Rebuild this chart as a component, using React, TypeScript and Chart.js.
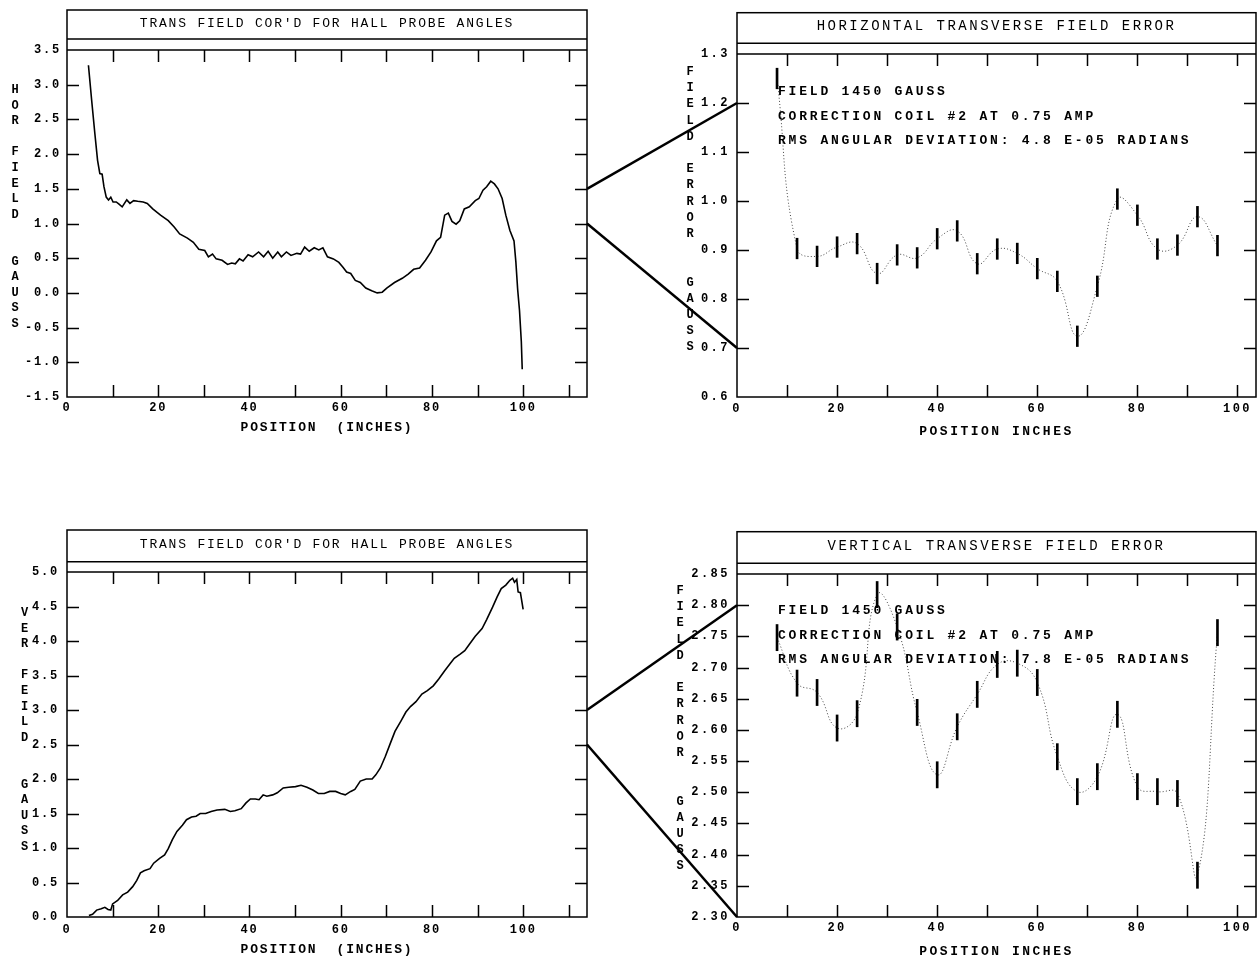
import React, { useEffect, useRef, useState } from 'react';
import { Chart, registerables } from 'chart.js';

Chart.register(...registerables);

const FONT = "'Liberation Mono', 'DejaVu Sans Mono', monospace";

// ---------- DATA ----------
// Horizontal transverse field (top-left)
const hPos = [4.7, 5.4, 6.1, 6.7, 7.2, 7.7, 8.1, 8.6, 9.1, 9.6, 10.1, 10.8, 11.4, 12.1, 13.1, 13.8, 14.6, 15.5, 16.7, 17.6,
  18.8, 20.5, 22.2, 23.5, 24.7, 26.4, 27.7, 28.9, 30.2, 31.0, 31.9, 32.7, 34.0, 35.2, 36.1, 36.9, 37.8, 38.6, 39.7, 40.7,
  42.0, 43.1, 44.1, 45.1, 46.2, 47.0, 48.1, 49.1, 50.4, 51.2, 52.1, 53.1, 54.2, 55.2, 56.1, 57.1, 58.4, 59.6, 60.5, 61.3,
  62.2, 63.2, 64.3, 65.5, 66.8, 68.0, 69.1, 70.1, 71.8, 73.5, 74.8, 76.0, 77.3, 78.6, 79.8, 81.0, 81.9, 82.8, 83.6, 84.4,
  85.3, 86.1, 87.1, 88.2, 89.5, 90.3, 91.2, 92.0, 92.9, 93.7, 94.5, 95.4, 96.2, 97.1, 98.0, 98.4, 98.8, 99.2, 99.6, 99.8];
const hVal = [3.28, 2.78, 2.30, 1.91, 1.72, 1.71, 1.53, 1.38, 1.34, 1.38, 1.31, 1.31, 1.28, 1.24, 1.34, 1.29, 1.33, 1.32, 1.31, 1.29,
  1.21, 1.12, 1.04, 0.95, 0.85, 0.79, 0.73, 0.63, 0.61, 0.52, 0.56, 0.49, 0.47, 0.41, 0.43, 0.42, 0.49, 0.46, 0.55, 0.52,
  0.59, 0.52, 0.60, 0.50, 0.59, 0.52, 0.59, 0.54, 0.57, 0.56, 0.66, 0.60, 0.65, 0.62, 0.65, 0.52, 0.49, 0.44, 0.37, 0.30,
  0.28, 0.18, 0.15, 0.07, 0.03, 0.00, 0.01, 0.07, 0.15, 0.21, 0.27, 0.34, 0.36, 0.47, 0.59, 0.75, 0.80, 1.12, 1.15, 1.03,
  0.99, 1.04, 1.21, 1.24, 1.33, 1.36, 1.48, 1.53, 1.61, 1.57, 1.50, 1.36, 1.12, 0.90, 0.75, 0.45, 0.05, -0.25, -0.70, -1.10];

// Vertical transverse field (bottom-left)
const vPos = [4.8, 5.6, 6.5, 7.5, 8.3, 9.0, 9.6, 10.0, 11.1, 12.2, 13.3, 14.4, 15.3, 16.1, 16.9, 18.2, 19.0, 20.3,
  21.4, 22.2, 23.1, 24.1, 25.3, 26.2, 27.3, 28.3, 29.2, 30.4, 31.6, 32.9, 34.6, 35.8, 36.8, 38.2, 39.2, 40.2, 41.3, 42.1,
  43.0, 43.8, 45.1, 46.1, 47.4, 48.6, 50.1, 51.3, 52.6, 53.9, 55.1, 56.4, 57.6, 58.9, 60.0, 61.0, 62.2, 63.1, 64.3, 65.6,
  66.9, 67.7, 68.7, 69.8, 70.9, 71.9, 73.2, 74.3, 75.3, 76.5, 77.8, 79.0, 80.3, 81.5, 82.8, 84.1, 84.9, 86.2, 87.2, 88.3,
  89.5, 91.0, 92.0, 93.3, 94.3, 95.2, 96.2, 97.1, 97.7, 98.1, 98.6, 98.9, 99.4, 100.0];
const vVal = [0.02, 0.04, 0.10, 0.12, 0.14, 0.11, 0.10, 0.19, 0.24, 0.32, 0.36, 0.44, 0.53, 0.64, 0.67, 0.70, 0.78, 0.85,
  0.90, 0.99, 1.12, 1.24, 1.33, 1.41, 1.45, 1.46, 1.50, 1.50, 1.53, 1.55, 1.56, 1.53, 1.54, 1.57, 1.65, 1.71, 1.71, 1.70,
  1.77, 1.75, 1.77, 1.80, 1.87, 1.88, 1.89, 1.91, 1.88, 1.84, 1.79, 1.79, 1.82, 1.82, 1.79, 1.77, 1.82, 1.85, 1.97, 2.00,
  2.00, 2.06, 2.16, 2.33, 2.52, 2.69, 2.84, 2.97, 3.05, 3.12, 3.23, 3.28, 3.35, 3.45, 3.57, 3.68, 3.75, 3.81, 3.86, 3.96,
  4.07, 4.18, 4.31, 4.49, 4.64, 4.76, 4.81, 4.88, 4.91, 4.85, 4.89, 4.71, 4.70, 4.46];

// Field error points (right panels)
const errPos = [8, 12, 16, 20, 24, 28, 32, 36, 40, 44, 48, 52, 56, 60, 64, 68, 72, 76, 80, 84, 88, 92, 96];
const hErrVal = [1.25, 0.903, 0.887, 0.906, 0.913, 0.852, 0.890, 0.884, 0.923, 0.939, 0.872, 0.902, 0.893, 0.862,
  0.836, 0.724, 0.826, 1.004, 0.971, 0.902, 0.910, 0.968, 0.909];
const vErrVal = [2.748, 2.675, 2.660, 2.603, 2.626, 2.817, 2.765, 2.628, 2.528, 2.605, 2.657, 2.705, 2.707, 2.676,
  2.557, 2.501, 2.525, 2.625, 2.509, 2.501, 2.498, 2.367, 2.756];
const hErrHalf = 0.021;
const vErrHalf = 0.021;

// Zoom connector values (left value -> right value)
const hZoomFrom = [1.5, 1.0];
const hZoomTo = [1.2, 0.7];
const vZoomFrom = [3.0, 2.5];
const vZoomTo = [2.8, 2.3];

// Texts
const leftTitle = "TRANS FIELD COR'D FOR HALL PROBE ANGLES";
const hErrTitle = 'HORIZONTAL TRANSVERSE FIELD ERROR';
const vErrTitle = 'VERTICAL TRANSVERSE FIELD ERROR';
const leftXTitle = 'POSITION  (INCHES)';
const rightXTitle = 'POSITION INCHES';
const hYTitle = 'HOR FIELD  GAUSS';
const vYTitle = 'VER FEILD  GAUSS';
const errYTitle = 'FIELD ERROR  GAUSS';
const hNotes = ['FIELD 1450 GAUSS', 'CORRECTION COIL #2 AT 0.75 AMP', 'RMS ANGULAR DEVIATION: 4.8 E-05 RADIANS'];
const vNotes = ['FIELD 1450 GAUSS', 'CORRECTION COIL #2 AT 0.75 AMP', 'RMS ANGULAR DEVIATION: 7.8 E-05 RADIANS'];

// Axis ranges
const leftXMax = 114;
const rightXMax = 103.7;
const hYRange = [-1.5, 3.5, 0.5];
const vYRange = [0, 5, 0.5];
const hErrYRange = [0.6, 1.3, 0.1];
const vErrYRange = [2.3, 2.85, 0.05];

// ---------- PLUGIN ----------
const framePlugin = {
  id: 'panelFrame',
  beforeDraw(chart: any, _a: any, opts: any) {
    (chart.ctx as any).letterSpacing = (opts.spacing || 0) + 'px';
  },
  afterDraw(chart: any, _a: any, opts: any) {
    const { ctx, chartArea: ca, scales } = chart;
    ctx.save();
    ctx.strokeStyle = '#000';
    ctx.lineWidth = 1.5;
    const top = ca.top + opts.boxTop;
    ctx.strokeRect(ca.left, top, ca.right - ca.left, ca.bottom - top);
    ctx.beginPath();
    ctx.moveTo(ca.left, ca.top + opts.boxLine);
    ctx.lineTo(ca.right, ca.top + opts.boxLine);
    ctx.moveTo(ca.left, ca.top);
    ctx.lineTo(ca.right, ca.top);
    const tl = 12;
    const xs = scales.x;
    xs.ticks.forEach((t: any) => {
      if (t.value <= xs.min || t.value >= xs.max) return;
      const px = Math.round(xs.getPixelForValue(t.value)) + 0.5;
      ctx.moveTo(px, ca.bottom);
      ctx.lineTo(px, ca.bottom - tl);
      ctx.moveTo(px, ca.top);
      ctx.lineTo(px, ca.top + tl);
    });
    const ys = scales.y;
    ys.ticks.forEach((t: any) => {
      if (t.value <= ys.min + 1e-9 || t.value >= ys.max - 1e-9) return;
      const py = Math.round(ys.getPixelForValue(t.value)) + 0.5;
      ctx.moveTo(ca.left, py);
      ctx.lineTo(ca.left + tl, py);
      ctx.moveTo(ca.right, py);
      ctx.lineTo(ca.right - tl, py);
    });
    ctx.stroke();

    ctx.fillStyle = '#000';
    ctx.textBaseline = 'middle';
    // stacked y-axis title letters
    ctx.letterSpacing = '0px';
    ctx.textAlign = 'center';
    ctx.font = `bold ${opts.letterSize}px ${FONT}`;
    [...opts.yTitle].forEach((ch: string, i: number) => {
      if (ch.trim()) ctx.fillText(ch, opts.yTitleX, opts.yTitleY + i * opts.yTitlePitch);
    });
    // notes
    if (opts.notes) {
      ctx.textAlign = 'left';
      ctx.letterSpacing = opts.noteSpacing + 'px';
      ctx.font = `bold ${opts.noteSize}px ${FONT}`;
      opts.notes.forEach((s: string, i: number) => {
        ctx.fillText(s, ca.left + opts.noteX, ca.top + opts.noteY + i * opts.notePitch);
      });
    }
    ctx.restore();
  },
};

// ---------- PANELS ----------
type Panel = {
  left: number; top: number; w: number; h: number;
  yW: number; padR: number; xH: number;
  title: string; titleSize: number; titlePadTop: number; titlePadBottom: number;
  xMax: number; xLabelPad: number; xTitle: string; xTitlePadBottom: number;
  yRange: number[]; yDec: number; yLabelPad: number;
  boxTop: number; boxLine: number;
  yTitle: string; yTitleX: number; yTitleY: number; yTitlePitch: number;
  spacing: number;
  datasets: any[];
  notes?: string[]; noteY?: number;
};

const curveSet = (xs: number[], ys: number[]) => ({
  type: 'line',
  data: xs.map((x, i) => ({ x, y: ys[i] })),
  borderColor: '#000',
  borderWidth: 1.6,
  pointRadius: 0,
  tension: 0,
  order: 1,
});

const errSets = (xs: number[], ys: number[], half: number) => [
  {
    type: 'bar',
    data: xs.map((x, i) => ({ x, y: [ys[i] - half, ys[i] + half] })),
    backgroundColor: '#000',
    borderWidth: 0,
    barThickness: 2,
    grouped: false,
    order: 0,
  },
  {
    type: 'line',
    data: xs.map((x, i) => ({ x, y: ys[i] })),
    borderColor: '#444',
    borderWidth: 1,
    borderDash: [1, 2.2],
    pointRadius: 0,
    tension: 0.45,
    order: 1,
  },
];

const PANELS: Panel[] = [
  {
    left: 0, top: 0, w: 600, h: 445, yW: 67, padR: 13, xH: 48,
    title: leftTitle, titleSize: 13, titlePadTop: 16.2, titlePadBottom: 18.2,
    xMax: leftXMax, xLabelPad: 3.8, xTitle: leftXTitle, xTitlePadBottom: 9.2,
    yRange: hYRange, yDec: 1, yLabelPad: 6,
    boxTop: -40, boxLine: -11,
    yTitle: hYTitle, yTitleX: 15, yTitleY: 90, yTitlePitch: 15.6,
    spacing: 1.8,
    datasets: [curveSet(hPos, hVal)],
  },
  {
    left: 600, top: 0, w: 659, h: 445, yW: 137, padR: 3, xH: 48,
    title: hErrTitle, titleSize: 14, titlePadTop: 18.3, titlePadBottom: 18.9,
    xMax: rightXMax, xLabelPad: 4.8, xTitle: rightXTitle, xTitlePadBottom: 5.2,
    yRange: hErrYRange, yDec: 1, yLabelPad: 7,
    boxTop: -41.3, boxLine: -10.7,
    yTitle: errYTitle, yTitleX: 90, yTitleY: 72, yTitlePitch: 16.2,
    spacing: 2.5,
    datasets: errSets(errPos, hErrVal, hErrHalf),
    notes: hNotes, noteY: 38,
  },
  {
    left: 0, top: 480, w: 600, h: 478, yW: 67, padR: 13, xH: 41,
    title: leftTitle, titleSize: 13, titlePadTop: 57.2, titlePadBottom: 19.2,
    xMax: leftXMax, xLabelPad: 5.8, xTitle: leftXTitle, xTitlePadBottom: 0.2,
    yRange: vYRange, yDec: 1, yLabelPad: 8,
    boxTop: -42, boxLine: -10.3,
    yTitle: vYTitle, yTitleX: 24.5, yTitleY: 133, yTitlePitch: 15.6,
    spacing: 1.8,
    datasets: [curveSet(vPos, vVal)],
  },
  {
    left: 600, top: 480, w: 659, h: 478, yW: 137, padR: 3, xH: 41,
    title: vErrTitle, titleSize: 14, titlePadTop: 57.6, titlePadBottom: 19.6,
    xMax: rightXMax, xLabelPad: 3.8, xTitle: rightXTitle, xTitlePadBottom: -1.8,
    yRange: vErrYRange, yDec: 2, yLabelPad: 7,
    boxTop: -42.3, boxLine: -10.7,
    yTitle: errYTitle, yTitleX: 80, yTitleY: 111, yTitlePitch: 16.2,
    spacing: 2.5,
    datasets: errSets(errPos, vErrVal, vErrHalf),
    notes: vNotes, noteY: 37,
  },
];

function buildConfig(p: Panel): any {
  const tickFont = { family: FONT, size: 12, weight: 'bold' };
  return {
    type: 'line',
    data: { datasets: p.datasets },
    plugins: [framePlugin],
    options: {
      responsive: false,
      animation: false,
      events: [],
      layout: { padding: { left: 0, right: p.padR, top: 0, bottom: 0 } },
      plugins: {
        legend: { display: false },
        tooltip: { enabled: false },
        title: {
          display: true,
          text: p.title,
          fullSize: false,
          color: '#000',
          font: { family: FONT, size: p.titleSize, weight: 'normal' },
          padding: { top: p.titlePadTop, bottom: p.titlePadBottom },
        },
        panelFrame: {
          boxTop: p.boxTop, boxLine: p.boxLine,
          yTitle: p.yTitle, yTitleX: p.yTitleX, yTitleY: p.yTitleY, yTitlePitch: p.yTitlePitch,
          letterSize: 12, spacing: p.spacing,
          notes: p.notes, noteX: 41, noteY: p.noteY, notePitch: 24.3, noteSize: 13, noteSpacing: 2.8,
        },
      },
      scales: {
        x: {
          type: 'linear',
          min: 0,
          max: p.xMax,
          offset: false,
          grid: { display: false, drawTicks: false, offset: false },
          border: { display: false },
          ticks: {
            stepSize: 10,
            includeBounds: false,
            autoSkip: false,
            maxRotation: 0,
            padding: p.xLabelPad,
            color: '#000',
            font: tickFont,
            callback: (v: any) => (Number(v) % 20 === 0 ? String(v) : ''),
          },
          title: {
            display: true,
            text: p.xTitle,
            color: '#000',
            font: { family: FONT, size: 13, weight: 'bold' },
            padding: { top: 0, bottom: p.xTitlePadBottom },
          },
          afterFit: (s: any) => { s.height = p.xH; },
        },
        y: {
          type: 'linear',
          min: p.yRange[0],
          max: p.yRange[1],
          beginAtZero: false,
          grid: { display: false, drawTicks: false },
          border: { display: false },
          ticks: {
            stepSize: p.yRange[2],
            padding: p.yLabelPad,
            color: '#000',
            font: tickFont,
            callback: (v: any) => Number(v).toFixed(p.yDec),
          },
          afterFit: (s: any) => { s.width = p.yW; },
        },
      },
    },
  };
}

type Seg = { x1: number; y1: number; x2: number; y2: number };

export default function App() {
  const r0 = useRef<HTMLCanvasElement>(null);
  const r1 = useRef<HTMLCanvasElement>(null);
  const r2 = useRef<HTMLCanvasElement>(null);
  const r3 = useRef<HTMLCanvasElement>(null);
  const refs = [r0, r1, r2, r3];
  const [segs, setSegs] = useState<Seg[]>([]);

  useEffect(() => {
    const charts = PANELS.map((p, i) => new Chart(refs[i].current as HTMLCanvasElement, buildConfig(p)));
    const link = (a: number, b: number, from: number[], to: number[]): Seg[] =>
      from.map((v, k) => ({
        x1: PANELS[a].left + charts[a].chartArea.right,
        y1: PANELS[a].top + charts[a].scales.y.getPixelForValue(v),
        x2: PANELS[b].left + charts[b].chartArea.left,
        y2: PANELS[b].top + charts[b].scales.y.getPixelForValue(to[k]),
      }));
    setSegs([...link(0, 1, hZoomFrom, hZoomTo), ...link(2, 3, vZoomFrom, vZoomTo)]);
    return () => charts.forEach((c) => c.destroy());
  }, []);

  return (
    <div style={{ position: 'absolute', left: 0, top: 0, width: 1259, height: 958, background: '#fff', overflow: 'hidden' }}>
      {PANELS.map((p, i) => (
        <canvas
          key={i}
          ref={refs[i]}
          width={p.w}
          height={p.h}
          style={{ position: 'absolute', left: p.left, top: p.top, width: p.w, height: p.h }}
        />
      ))}
      <svg width={1259} height={958} style={{ position: 'absolute', left: 0, top: 0, pointerEvents: 'none' }}>
        {segs.map((s, i) => (
          <line key={i} x1={s.x1} y1={s.y1} x2={s.x2} y2={s.y2} stroke="#000" strokeWidth={2.5} />
        ))}
      </svg>
    </div>
  );
}
